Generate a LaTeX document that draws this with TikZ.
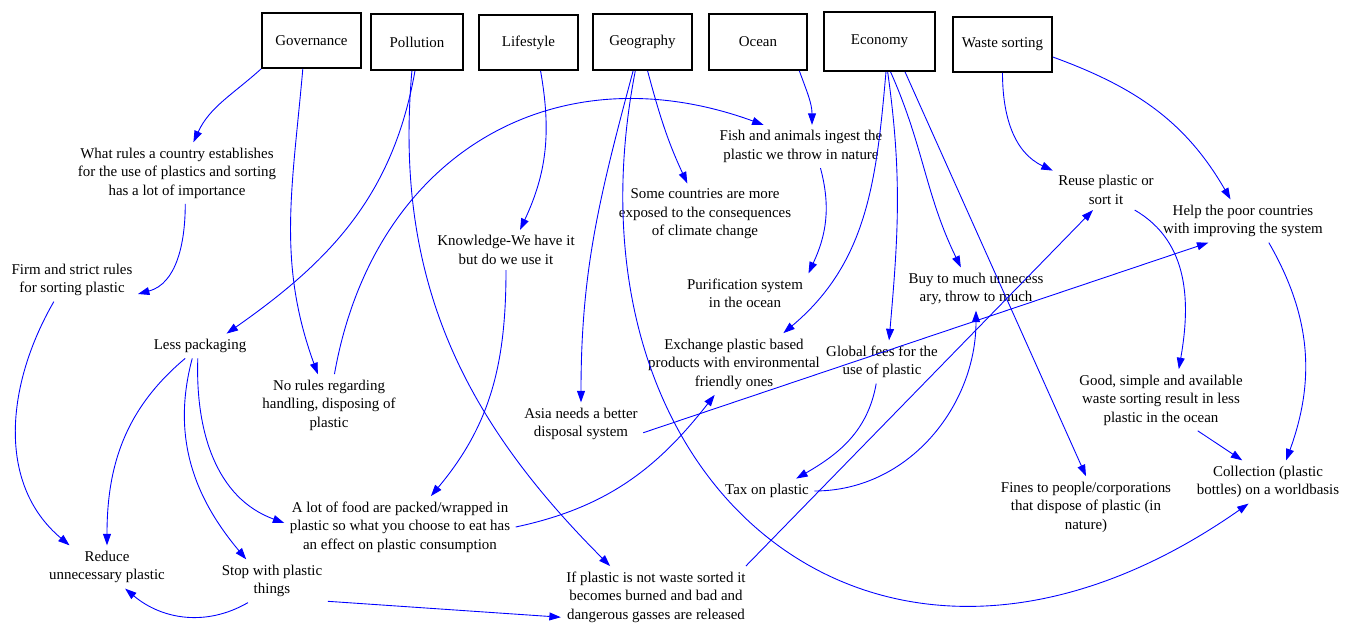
\documentclass[tikz,border=0pt]{standalone}
\usepackage{fontspec}
\setmainfont{Liberation Serif}
\usetikzlibrary{arrows.meta}

\begin{document}
\begin{tikzpicture}[x=0.02cm, y=0.02cm]
    \useasboundingbox (0,0) rectangle (1349,628);

    \begin{scope}[every node/.style = {align=center, inner sep=3pt, font=\fontsize{8.5}{10.5}\selectfont},
        topic/.style = {draw, line width=1.1pt, minimum width=1.98cm, minimum height=1.1cm}]
        \node[topic] (Gov) at (311.5,587.5) {Governance};
        \node[topic, minimum width=1.84cm, minimum height=1.12cm] (Pol) at (417,586) {Pollution};
        \node[topic] (Life) at (528.5,585.5) {Lifestyle};
        \node[topic, minimum height=1.12cm] (Geo) at (642.5,586) {Geography};
        \node[topic, minimum width=1.96cm, minimum height=1.12cm] (Oce) at (758,586) {Ocean};
        \node[topic, minimum width=2.22cm, minimum height=1.18cm] (Eco) at (879.5,586.5) {Economy};
        \node[topic] (Was) at (1002.5,583.5) {Waste sorting};

        \node (Rules) at (177,455) {What rules a country establishes\\for the use of plastics and sorting\\has a lot of importance};
        \node (Firm) at (72,348) {Firm and strict rules\\for sorting plastic};
        \node (Less) at (200,282) {Less packaging};
        \node (NoRules) at (329,223) {No rules regarding\\handling, disposing of\\plastic};
        \node (Reduce) at (107,61) {Reduce\\unnecessary plastic};
        \node (Stop) at (272,47) {Stop with plastic\\things};
        \node (Food) at (400,101) {A lot of food are packed/wrapped in\\plastic so what you choose to eat has\\an effect on plastic consumption};
        \node (Burn) at (656,31) {If plastic is not waste sorted it\\becomes burned and bad and\\dangerous gasses are released};
        \node (Know) at (506,378) {Knowledge-We have it\\but do we use it};
        \node (Asia) at (581,204) {Asia needs a better\\disposal system};
        \node (Some) at (705,414) {Some countries are more\\exposed to the consequences\\of climate change};
        \node (Fish) at (801,481.5) {Fish and animals ingest the\\plastic we throw in nature};
        \node (Purif) at (745,334.5) {Purification system\\in the ocean};
        \node (Exch) at (734,264) {Exchange plastic based\\products with environmental\\friendly ones};
        \node (Fees) at (882,266) {Global fees for the\\use of plastic};
        \node (Buy) at (976,339) {Buy to much unnecess\\ary, throw to much};
        \node (Tax) at (767,137) {Tax on plastic};
        \node (Reuse) at (1106,438) {Reuse plastic or\\sort it};
        \node (Help) at (1243,407) {Help the poor countries\\with improving the system};
        \node (Good) at (1161,228) {Good, simple and available\\waste sorting result in less\\plastic in the ocean};
        \node (Coll) at (1268,146) {Collection (plastic\\bottles) on a worldbasis};
        \node (Fines) at (1086,121) {Fines to people/corporations\\that dispose of plastic (in\\nature)};
    \end{scope}

    \begin{scope}[blue, line width=0.5pt, >={Triangle[length=6.5pt, width=4.5pt]}]
    \path [->] (Gov.south west) edge[out=222, in=65] (Rules.62);
    \path [->] (Rules.-75) edge[out=-90, in=15] (Firm.-12);
    \path [->] (Gov.-107) edge[out=-95, in=110] (NoRules);
    \path [->] (Pol.-94) edge[out=-100, in=35] (Less.25);
    \path [->] (Pol.-100) edge[out=-95, in=135] (Burn.146);
    \path [->] (Life.-67) edge[out=-80, in=65] (Know.55);
    \path [->] (Know.south) edge[out=-90, in=50] (Food.45);
    \path [->] (NoRules.80) edge[out=80, in=160, looseness=1.15] (Fish.150);
    \path [->] (Geo.-80) edge[out=-75, in=115] (Some.120);
    \path [->] (Geo.-108) edge[out=-105, in=90] (Asia.north);
    \path [->] (Geo.-104) edge[out=-101, in=-145, out distance=8.5cm, in distance=8.99cm] (Coll.-132);
    \path [->] (Oce.-35) edge[out=-70, in=90] (Fish.63);
    \path [->] (Fish.-48) edge[out=-75, in=65] (Purif.north east);
    \path [->] (Eco.-78) edge[out=-95, in=40] (Exch.32);
    \path [->] (Eco.-75) edge[out=-82, in=85] (Fees.72);
    \path [->] (Eco.-70) edge[out=-66, in=116] (Buy.125);
    \path [->] (Eco.-50) edge (Fines.north);
    \path [->] (Was.south) edge[out=-90, in=155] (Reuse.160);
    \path [->] (Was.-14) edge[out=-20, in=120] (Help.120);
    \path [->] (Reuse.-35) edge[out=-30, in=80] (Good.60);
    \path [->] (Help.-40) edge[out=-60, in=70] (Coll.50);
    \path [->] (Good.-40) edge (Coll.140);
    \path [->] (Fees.-105) edge[out=-100, in=30] (Tax.23);
    \path [->] (Tax.east) edge[out=0, in=-90] (Buy.south);
    \path [->] (Burn.19) edge (Reuse.-123);
    \path [->] (Asia.-8) edge (Help.-148);
    \path [->] (Food.east) edge[out=12, in=-128] (Exch.-122);
    \path [->] (Less.-140) edge[out=-140, in=90] (Reduce.north);
    \path [->] (Less.-122) edge[out=-105, in=130] (Stop.140);
    \path [->] (Less.-100) edge[out=-92, in=160] (Food.178);
    \path [->] (Firm.-130) edge[out=-120, in=140] (Reduce.150);
    \path [->] (Stop.-138) edge[out=-150, in=-40] (Reduce.-50);
    \path [->] (Stop.-20) edge (Burn.-168);
    \end{scope}

\end{tikzpicture}
\end{document}
